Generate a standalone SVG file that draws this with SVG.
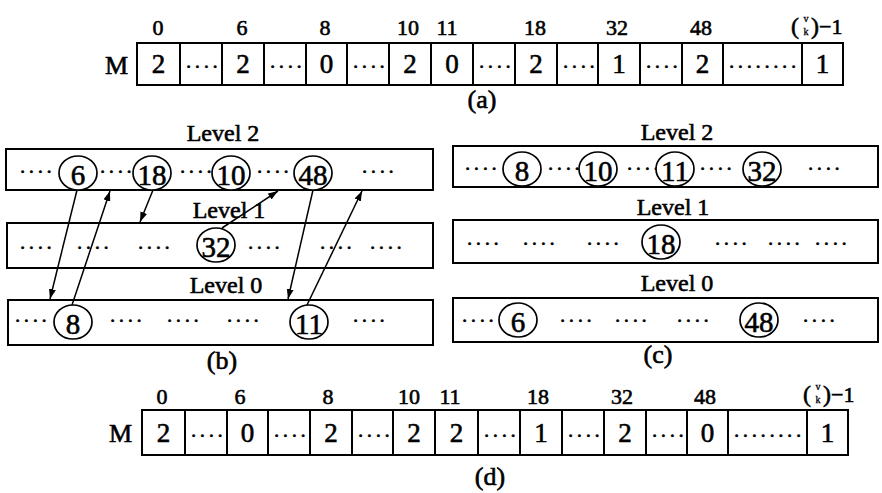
<svg xmlns="http://www.w3.org/2000/svg" width="882" height="493" viewBox="0 0 882 493">
<defs>
<style>
text{font-family:"Liberation Serif","Times New Roman",serif;fill:#000;stroke:#000;stroke-width:0.6px}
.lab{font-size:22px;text-anchor:middle}
.dig{font-size:27px;text-anchor:middle}
.dots{font-size:21px;letter-spacing:3.6px}
.lvl{font-size:24px;text-anchor:middle}
.cap{font-size:26px;text-anchor:middle}
.num{font-size:29px;text-anchor:middle}
.em{font-size:26px;text-anchor:end}
.sm{font-size:10px;text-anchor:middle;stroke-width:0.3px}
.par{font-size:24px}
.cell{fill:#fff;stroke:#000;stroke-width:2}
.box{fill:#fff;stroke:#000;stroke-width:2}
.circ{fill:#fff;stroke:#000;stroke-width:1.7}
.conn{stroke:#000;stroke-width:1.5;fill:none;marker-end:url(#ah)}
</style>
<marker id="ah" viewBox="0 0 10 7" refX="10" refY="3.5" markerWidth="10" markerHeight="7" markerUnits="userSpaceOnUse" orient="auto">
<path d="M0,0 L10,3.5 L0,7 z" fill="#000"/>
</marker>
</defs>
<rect width="882" height="493" fill="#fff"/>

<!-- (a) array -->
<g id="arrayA">
<text class="em" x="128" y="74">M</text>
<g id="a0"><rect class="cell" x="137" y="43" width="43" height="42"/><text class="dig" x="158.5" y="73">2</text></g>
<g id="a1"><rect class="cell" x="180" y="43" width="42" height="42"/><text class="dots" x="186" y="68">....</text></g>
<g id="a2"><rect class="cell" x="222" y="43" width="42" height="42"/><text class="dig" x="243" y="73">2</text></g>
<g id="a3"><rect class="cell" x="264" y="43" width="42" height="42"/><text class="dots" x="270" y="68">....</text></g>
<g id="a4"><rect class="cell" x="306" y="43" width="41" height="42"/><text class="dig" x="326.5" y="73">0</text></g>
<g id="a5"><rect class="cell" x="347" y="43" width="42" height="42"/><text class="dots" x="353" y="68">....</text></g>
<g id="a6"><rect class="cell" x="389" y="43" width="42" height="42"/><text class="dig" x="410" y="73">2</text></g>
<g id="a7"><rect class="cell" x="431" y="43" width="42" height="42"/><text class="dig" x="452" y="73">0</text></g>
<g id="a8"><rect class="cell" x="473" y="43" width="42" height="42"/><text class="dots" x="479" y="68">....</text></g>
<g id="a9"><rect class="cell" x="515" y="43" width="42" height="42"/><text class="dig" x="536" y="73">2</text></g>
<g id="a10"><rect class="cell" x="557" y="43" width="41" height="42"/><text class="dots" x="563" y="68">....</text></g>
<g id="a11"><rect class="cell" x="598" y="43" width="42" height="42"/><text class="dig" x="619" y="73">1</text></g>
<g id="a12"><rect class="cell" x="640" y="43" width="42" height="42"/><text class="dots" x="646" y="68">....</text></g>
<g id="a13"><rect class="cell" x="682" y="43" width="41" height="42"/><text class="dig" x="702.5" y="73">2</text></g>
<g id="a14"><rect class="cell" x="723" y="43" width="79" height="42"/><text class="dots" x="729" y="68">........</text></g>
<g id="a15"><rect class="cell" x="802" y="43" width="41" height="42"/><text class="dig" x="822.5" y="73">1</text></g>
<text class="lab" x="158" y="35">0</text>
<text class="lab" x="242" y="35">6</text>
<text class="lab" x="325" y="35">8</text>
<text class="lab" x="408" y="35">10</text>
<text class="lab" x="447" y="35">11</text>
<text class="lab" x="535" y="35">18</text>
<text class="lab" x="617" y="35">32</text>
<text class="lab" x="701" y="35">48</text>
<g id="binomA">
<text class="par" x="791" y="34">(</text>
<text class="sm" x="806" y="22">v</text>
<text class="sm" x="806" y="35">k</text>
<text class="par" x="811" y="34">)</text>
<text x="819" y="34" style="font-size:22px">−1</text>
</g>
<text class="cap" x="482" y="108">(a)</text>
</g>

<!-- (b) -->
<g id="panelB">
<text class="lvl" x="223" y="141">Level 2</text>
<g id="b-L2"><rect class="box" x="6" y="149" width="427" height="41"/>
<text class="dots" x="20" y="173">....</text>
<text class="dots" x="100" y="173">....</text>
<text class="dots" x="180" y="173">....</text>
<text class="dots" x="257" y="173">....</text>
<text class="dots" x="362" y="173">....</text></g>
<g id="b-n6"><ellipse class="circ" cx="78" cy="173" rx="19" ry="17"/><text class="num" x="78" y="185">6</text></g>
<g id="b-n18"><ellipse class="circ" cx="152" cy="173" rx="19" ry="17"/><text class="num" x="152" y="185">18</text></g>
<g id="b-n10"><ellipse class="circ" cx="231" cy="173" rx="19" ry="17"/><text class="num" x="231" y="185">10</text></g>
<g id="b-n48"><ellipse class="circ" cx="313" cy="173" rx="19" ry="17"/><text class="num" x="313" y="185">48</text></g>

<text class="lvl" x="229" y="218">Level 1</text>
<g id="b-L1"><rect class="box" x="7" y="223" width="426" height="45"/>
<text class="dots" x="20" y="249">....</text>
<text class="dots" x="77" y="249">....</text>
<text class="dots" x="138" y="249">....</text>
<text class="dots" x="248" y="249">....</text>
<text class="dots" x="320" y="249">....</text>
<text class="dots" x="370" y="249">....</text></g>
<g id="b-n32"><ellipse class="circ" cx="216" cy="245" rx="19" ry="17"/><text class="num" x="216" y="257">32</text></g>

<text class="lvl" x="226" y="293">Level 0</text>
<g id="b-L0"><rect class="box" x="8" y="300" width="425" height="45"/>
<text class="dots" x="15" y="322">....</text>
<text class="dots" x="110" y="322">....</text>
<text class="dots" x="167" y="322">....</text>
<text class="dots" x="227" y="322">....</text>
<text class="dots" x="353" y="322">....</text></g>
<g id="b-n8"><ellipse class="circ" cx="73" cy="322" rx="19" ry="17"/><text class="num" x="73" y="334">8</text></g>
<g id="b-n11"><ellipse class="circ" cx="309" cy="322" rx="19" ry="17"/><text class="num" x="309" y="334">11</text></g>
<text class="cap" x="222" y="369">(b)</text>
</g>

<g id="connectors">
<line class="conn" x1="77" y1="190" x2="50" y2="299"/>
<line class="conn" x1="72" y1="305" x2="110" y2="191"/>
<line class="conn" x1="153" y1="190" x2="140" y2="222"/>
<line class="conn" x1="222" y1="228" x2="278" y2="191"/>
<line class="conn" x1="313" y1="190" x2="288" y2="299"/>
<line class="conn" x1="307" y1="305" x2="362" y2="191"/>
</g>

<!-- (c) -->
<g id="panelC">
<text class="lvl" x="677" y="140">Level 2</text>
<g id="c-L2"><rect class="box" x="453" y="146" width="425" height="41"/>
<text class="dots" x="465" y="170">....</text>
<text class="dots" x="548" y="170">....</text>
<text class="dots" x="627" y="170">....</text>
<text class="dots" x="700" y="170">....</text>
<text class="dots" x="808" y="170">....</text></g>
<g id="c-n8"><ellipse class="circ" cx="522" cy="169" rx="19" ry="17"/><text class="num" x="522" y="181">8</text></g>
<g id="c-n10"><ellipse class="circ" cx="598" cy="169" rx="19" ry="17"/><text class="num" x="598" y="181">10</text></g>
<g id="c-n11"><ellipse class="circ" cx="675" cy="169" rx="19" ry="17"/><text class="num" x="675" y="181">11</text></g>
<g id="c-n32"><ellipse class="circ" cx="762" cy="169" rx="19" ry="17"/><text class="num" x="762" y="181">32</text></g>

<text class="lvl" x="673" y="215">Level 1</text>
<g id="c-L1"><rect class="box" x="453" y="220" width="425" height="43"/>
<text class="dots" x="467" y="245">....</text>
<text class="dots" x="523" y="245">....</text>
<text class="dots" x="587" y="245">....</text>
<text class="dots" x="715" y="245">....</text>
<text class="dots" x="768" y="245">....</text>
<text class="dots" x="815" y="245">....</text></g>
<g id="c-n18"><ellipse class="circ" cx="661" cy="242" rx="19" ry="17"/><text class="num" x="661" y="254">18</text></g>

<text class="lvl" x="677" y="291">Level 0</text>
<g id="c-L0"><rect class="box" x="453" y="298" width="425" height="44"/>
<text class="dots" x="462" y="322">....</text>
<text class="dots" x="560" y="322">....</text>
<text class="dots" x="615" y="322">....</text>
<text class="dots" x="677" y="322">....</text>
<text class="dots" x="803" y="322">....</text></g>
<g id="c-n6"><ellipse class="circ" cx="518" cy="320" rx="19" ry="17"/><text class="num" x="518" y="332">6</text></g>
<g id="c-n48"><ellipse class="circ" cx="759" cy="320" rx="19" ry="17"/><text class="num" x="759" y="332">48</text></g>
<text class="cap" x="658" y="363">(c)</text>
</g>

<!-- (d) array -->
<g id="arrayD">
<text class="em" x="132" y="442">M</text>
<g id="d0"><rect class="cell" x="142" y="410" width="43" height="45"/><text class="dig" x="163.5" y="442">2</text></g>
<g id="d1"><rect class="cell" x="185" y="410" width="42" height="45"/><text class="dots" x="191" y="437">....</text></g>
<g id="d2"><rect class="cell" x="227" y="410" width="41" height="45"/><text class="dig" x="247.5" y="442">0</text></g>
<g id="d3"><rect class="cell" x="268" y="410" width="42" height="45"/><text class="dots" x="274" y="437">....</text></g>
<g id="d4"><rect class="cell" x="310" y="410" width="42" height="45"/><text class="dig" x="331" y="442">2</text></g>
<g id="d5"><rect class="cell" x="352" y="410" width="41" height="45"/><text class="dots" x="358" y="437">....</text></g>
<g id="d6"><rect class="cell" x="393" y="410" width="42" height="45"/><text class="dig" x="414" y="442">2</text></g>
<g id="d7"><rect class="cell" x="435" y="410" width="43" height="45"/><text class="dig" x="456.5" y="442">2</text></g>
<g id="d8"><rect class="cell" x="478" y="410" width="42" height="45"/><text class="dots" x="484" y="437">....</text></g>
<g id="d9"><rect class="cell" x="520" y="410" width="42" height="45"/><text class="dig" x="541" y="442">1</text></g>
<g id="d10"><rect class="cell" x="562" y="410" width="42" height="45"/><text class="dots" x="568" y="437">....</text></g>
<g id="d11"><rect class="cell" x="604" y="410" width="42" height="45"/><text class="dig" x="625" y="442">2</text></g>
<g id="d12"><rect class="cell" x="646" y="410" width="41" height="45"/><text class="dots" x="652" y="437">....</text></g>
<g id="d13"><rect class="cell" x="687" y="410" width="41" height="45"/><text class="dig" x="707.5" y="442">0</text></g>
<g id="d14"><rect class="cell" x="728" y="410" width="79" height="45"/><text class="dots" x="734" y="437">........</text></g>
<g id="d15"><rect class="cell" x="807" y="410" width="41" height="45"/><text class="dig" x="827.5" y="442">1</text></g>
<text class="lab" x="162" y="404">0</text>
<text class="lab" x="240" y="404">6</text>
<text class="lab" x="328" y="404">8</text>
<text class="lab" x="409" y="404">10</text>
<text class="lab" x="450" y="404">11</text>
<text class="lab" x="538" y="404">18</text>
<text class="lab" x="622" y="404">32</text>
<text class="lab" x="705" y="404">48</text>
<g id="binomD">
<text class="par" x="803" y="402">(</text>
<text class="sm" x="818" y="390">v</text>
<text class="sm" x="818" y="403">k</text>
<text class="par" x="823" y="402">)</text>
<text x="831" y="402" style="font-size:22px">−1</text>
</g>
<text class="cap" x="490" y="485">(d)</text>
</g>
</svg>
